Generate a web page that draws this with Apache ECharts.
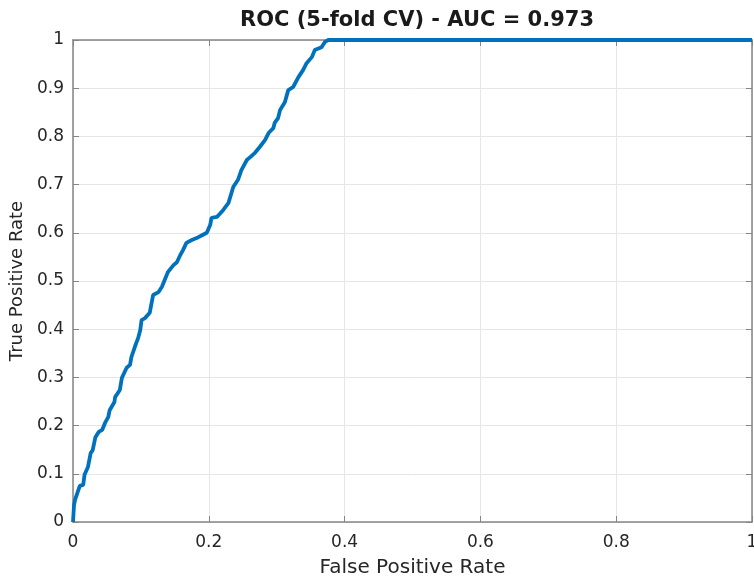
<!DOCTYPE html>
<html>
<head>
<meta charset="utf-8">
<script src="https://cdn.jsdelivr.net/npm/echarts@6/dist/echarts.min.js"></script>
<style>
html,body{margin:0;padding:0;background:#fff;}
#chart{width:754px;height:581px;}
</style>
</head>
<body>
<div id="chart"></div>
<script>
const titleText = "ROC (5-fold CV) - AUC = 0.973";
const xAxisName = "False Positive Rate";
const yAxisName = "True Positive Rate";
const fpr = [0,0.0015,0.003,0.010,0.015,0.017,0.022,0.026,0.029,0.033,0.038,0.043,0.047,0.052,0.054,0.061,0.062,0.069,0.072,0.079,0.084,0.086,0.091,0.096,0.099,0.101,0.106,0.113,0.116,0.118,0.126,0.131,0.135,0.140,0.148,0.153,0.158,0.162,0.167,0.175,0.182,0.190,0.197,0.202,0.204,0.212,0.216,0.221,0.229,0.236,0.243,0.248,0.256,0.261,0.268,0.275,0.283,0.288,0.295,0.297,0.302,0.305,0.312,0.317,0.324,0.332,0.339,0.344,0.352,0.356,0.366,0.371,0.376,1];
const tpr = [0,0.035,0.046,0.075,0.077,0.098,0.114,0.143,0.149,0.176,0.187,0.191,0.205,0.218,0.232,0.249,0.259,0.274,0.299,0.320,0.326,0.342,0.363,0.382,0.398,0.419,0.423,0.434,0.456,0.471,0.477,0.488,0.502,0.519,0.533,0.539,0.554,0.564,0.579,0.585,0.589,0.595,0.600,0.616,0.631,0.633,0.639,0.647,0.662,0.695,0.710,0.730,0.751,0.757,0.766,0.778,0.793,0.807,0.817,0.828,0.838,0.855,0.871,0.896,0.902,0.923,0.938,0.952,0.965,0.979,0.985,0.996,1.0,1.0];

const chart = echarts.init(document.getElementById('chart'));
const axisColor = '#858585';
const labelColor = '#262626';
const font = 'DejaVu Sans, sans-serif';
const boxAxis = (pos, interval) => ({
  type: 'value', position: pos, min: 0, max: 1, interval: interval,
  axisLine: {show: true, onZero: false, lineStyle: {color: axisColor, width: 1.5}},
  axisTick: {show: true, inside: true, length: 6, lineStyle: {color: axisColor}},
  axisLabel: {show: false}, splitLine: {show: false}
});
chart.setOption({
  animation: false,
  backgroundColor: '#ffffff',
  title: {
    text: titleText, left: 412, top: 5, textAlign: 'center',
    textStyle: {fontFamily: 'DejaVu Sans, sans-serif', fontWeight: 'bold', fontSize: 21, color: '#1a1a1a'}
  },
  grid: {left: 73, right: 2, top: 40, bottom: 59, containLabel: false, outerBoundsMode: 'none'},
  xAxis: [{
    type: 'value', min: 0, max: 1, interval: 0.2, position: 'bottom',
    name: xAxisName, nameLocation: 'middle', nameGap: 36,
    nameTextStyle: {fontFamily: font, fontSize: 20, color: labelColor},
    axisLine: {show: true, onZero: false, lineStyle: {color: axisColor, width: 1.5}},
    axisTick: {show: true, inside: true, length: 6, lineStyle: {color: axisColor}},
    axisLabel: {fontFamily: font, fontSize: 17, color: labelColor, margin: 12},
    splitLine: {show: true, lineStyle: {color: '#e6e6e6', width: 1}}
  }, boxAxis('top', 0.2)],
  yAxis: [{
    type: 'value', min: 0, max: 1, interval: 0.1, position: 'left',
    name: yAxisName, nameLocation: 'middle', nameGap: 43,
    nameTextStyle: {fontFamily: font, fontSize: 18, color: labelColor},
    axisLine: {show: true, onZero: false, lineStyle: {color: axisColor, width: 1.5}},
    axisTick: {show: true, inside: true, length: 6, lineStyle: {color: axisColor}},
    axisLabel: {fontFamily: font, fontSize: 17, color: labelColor, margin: 9},
    splitLine: {show: true, lineStyle: {color: '#e6e6e6', width: 1}}
  }, boxAxis('right', 0.1)],
  series: [{
    type: 'line', showSymbol: false,
    data: fpr.map((x, i) => [x, tpr[i]]),
    lineStyle: {color: '#0072BD', width: 3.8},
    itemStyle: {color: '#0072BD'}
  }]
});
</script>
</body>
</html>
